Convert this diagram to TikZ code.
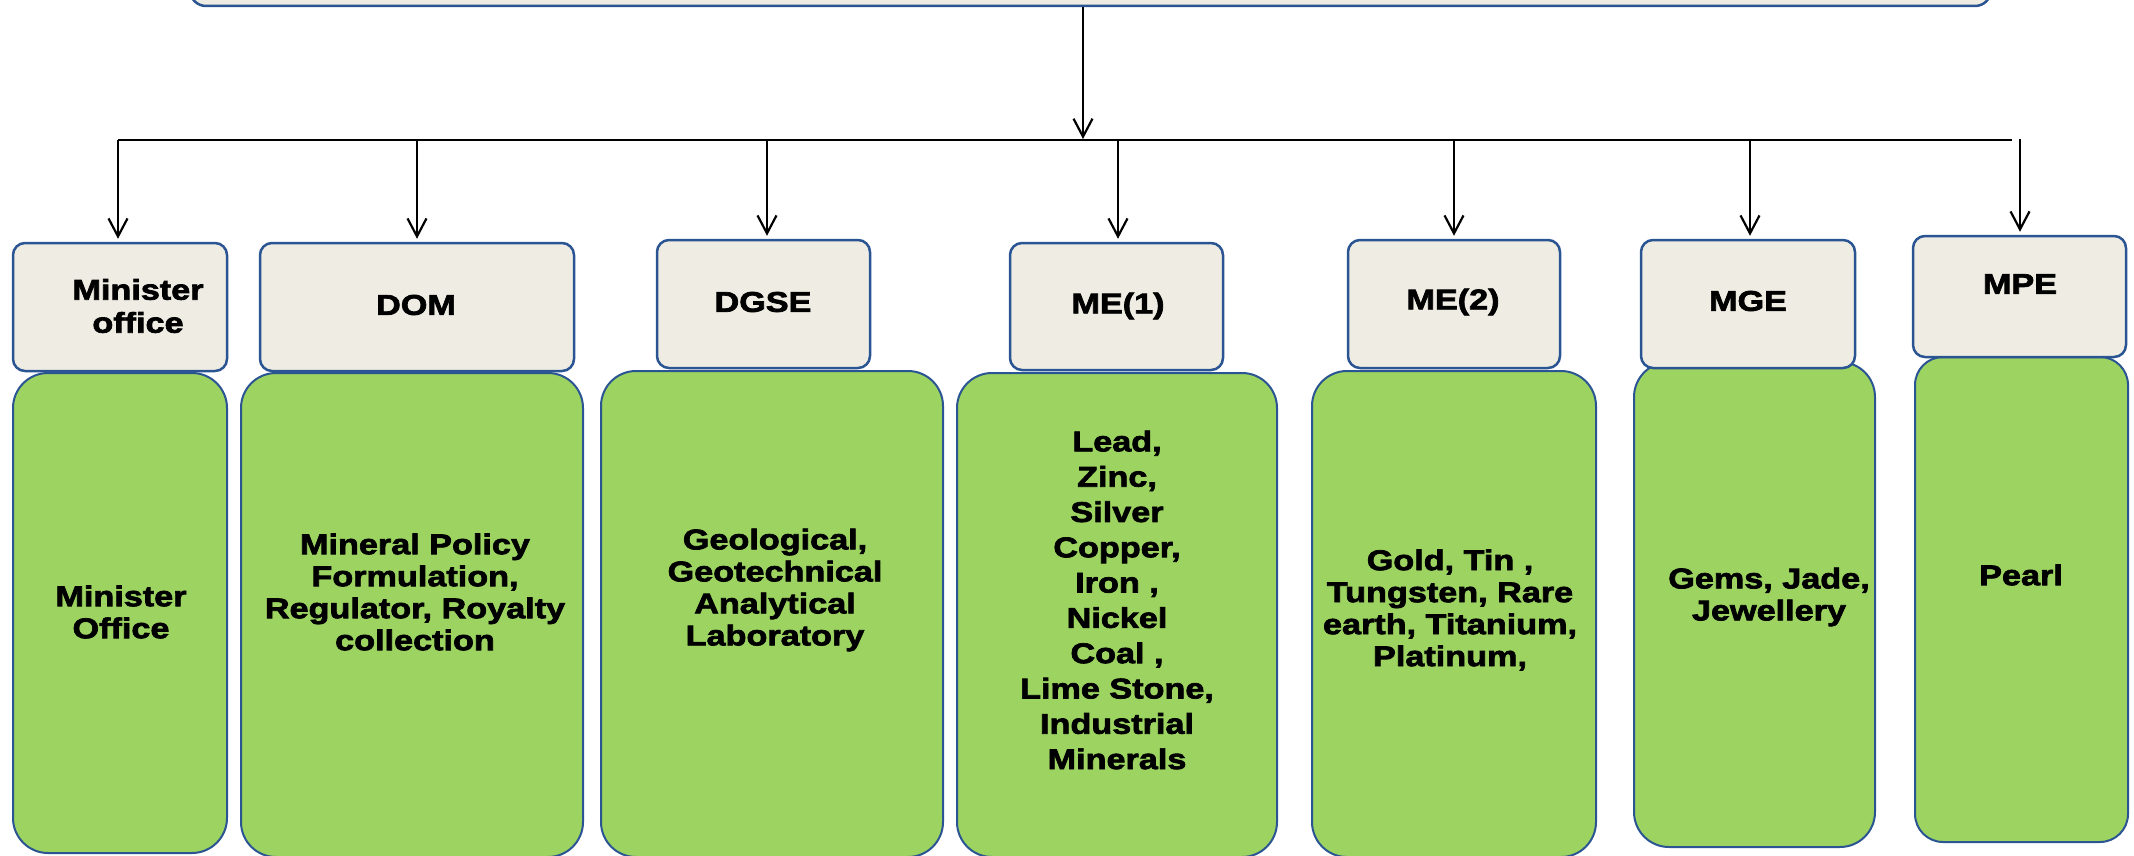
\documentclass[tikz,border=0pt]{standalone}
\usepackage{fontspec}
\setmainfont{Liberation Sans}
\newfontfamily\bx{Liberation Sans}[FakeStretch=1.2,FakeBold=2.5]
\usetikzlibrary{arrows.meta}
\definecolor{hdrfill}{HTML}{EEECE3}
\definecolor{grnfill}{HTML}{9CD361}
\definecolor{bdr}{HTML}{2B5592}
\tikzset{
  hdr/.style={draw=bdr, fill=hdrfill, line width=2.5pt, rounded corners=12pt, inner sep=0pt},
  grn/.style={draw=bdr, fill=grnfill, line width=2pt, rounded corners=35pt, inner sep=0pt},
  lbl/.style={font=\bx\bfseries\fontsize{28.5}{32}\selectfont, align=center, inner sep=0pt},
  lblwide/.style={font=\bx\bfseries\fontsize{28.5}{35.3}\selectfont, align=center, inner sep=0pt},
  lblhdr/.style={font=\bx\bfseries\fontsize{28.5}{33}\selectfont, align=center, inner sep=0pt},
  wire/.style={line width=2.5pt},
  conn/.style={line width=2.5pt, -{Straight Barb[length=18pt,width=19pt,line width=2.2pt]}, shorten >=3pt},
}
\begin{document}
\begin{tikzpicture}[x=1pt,y=-1pt]
\useasboundingbox (0,0) rectangle (2134,856);
% top box (cut off)
\node[hdr, rounded corners=16pt, minimum width=1801pt, minimum height=80pt] (top) at (1090.5,-34) {};
% green boxes
\node[grn, minimum width=214pt, minimum height=480pt] (g1) at (120,613) {};
\node[grn, minimum width=342pt, minimum height=484pt] (g2) at (412,615) {};
\node[grn, minimum width=342pt, minimum height=486pt] (g3) at (772,614) {};
\node[grn, minimum width=320pt, minimum height=484pt] (g4) at (1117,615) {};
\node[grn, minimum width=284pt, minimum height=486pt] (g5) at (1454,614) {};
\node[grn, minimum width=241pt, minimum height=485pt] (g6) at (1754.5,604.5) {};
\node[grn, rounded corners=28pt, minimum width=213pt, minimum height=485pt] (g7) at (2021.5,599.5) {};
% header boxes
\node[hdr, minimum width=214pt, minimum height=128pt] (h1) at (120,307) {};
\node[hdr, minimum width=314pt, minimum height=128pt] (h2) at (417,307) {};
\node[hdr, minimum width=213pt, minimum height=128pt] (h3) at (763.5,304) {};
\node[hdr, minimum width=213pt, minimum height=127pt] (h4) at (1116.5,306.5) {};
\node[hdr, minimum width=212pt, minimum height=128pt] (h5) at (1454,304) {};
\node[hdr, minimum width=214pt, minimum height=128pt] (h6) at (1748,304) {};
\node[hdr, minimum width=213pt, minimum height=121pt] (h7) at (2019.5,296.5) {};
% header texts
\node[lblhdr] (th1) at (138,306) {Minister\\office};
\node[lbl] (th2) at (416,305) {DOM};
\node[lbl] (th3) at (763,302) {DGSE};
\node[lbl] (th4) at (1118,306) {ME(1)};
\node[lbl] (th5) at (1453,302) {ME(2)};
\node[lbl] (th6) at (1748,301) {MGE};
\node[lbl] (th7) at (2020,284) {MPE};
% green texts
\node[lbl] (tg1) at (121,612) {Minister\\Office};
\node[lbl] (tg2) at (415,592) {Mineral Policy\\Formulation,\\Regulator, Royalty\\collection};
\node[lbl] (tg3) at (775,590) {Geological,\\Geotechnical\\Analytical\\Laboratory};
\node[lblwide] (tg4) at (1117,600) {Lead,\\Zinc,\\Silver\\Copper,\\Iron ,\\Nickel\\Coal ,\\Lime Stone,\\Industrial\\Minerals};
\node[lbl] (tg5) at (1450,610) {Gold, Tin ,\\Tungsten, Rare\\earth, Titanium,\\Platinum,};
\node[lbl] (tg6) at (1769,597) {Gems, Jade,\\Jewellery};
\node[lbl] (tg7) at (2021,575) {Pearl};
% connectors
\coordinate (jn) at (1083,140);
\coordinate (bl) at (118,140);
\coordinate (br) at (2012,140);
\coordinate (b1) at (118,140);
\coordinate (b2) at (417,140);
\coordinate (b3) at (767,140);
\coordinate (b4) at (1118,140);
\coordinate (b5) at (1454,140);
\coordinate (b6) at (1750,140);
\coordinate (b7) at (2020,139);
\draw[wire] (bl) -- (br);
\draw[conn, shorten >=1pt] (top.south -| jn) -- (jn);
\draw[conn] (b1) -- (b1 |- h1.north);
\draw[conn] (b2) -- (b2 |- h2.north);
\draw[conn] (b3) -- (b3 |- h3.north);
\draw[conn] (b4) -- (b4 |- h4.north);
\draw[conn] (b5) -- (b5 |- h5.north);
\draw[conn] (b6) -- (b6 |- h6.north);
\draw[conn] (b7) -- (b7 |- h7.north);
\end{tikzpicture}
\end{document}
